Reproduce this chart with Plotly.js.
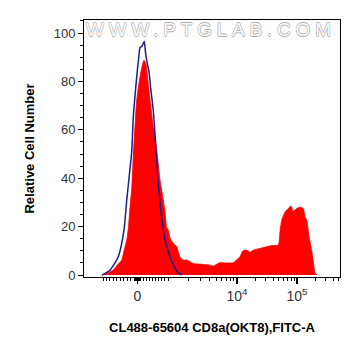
<!DOCTYPE html>
<html>
<head>
<meta charset="utf-8">
<script src="https://cdn.plot.ly/plotly-3.0.1.min.js"></script>
<style>
html,body{margin:0;padding:0;background:#fff;}
#chart{width:361px;height:356px;}
.annotation-text{letter-spacing:4.8px;}
</style>
</head>
<body>
<div id="chart"></div>
<script>
// Display channel (biexponential scale, 0..1024) and relative cell number
const sampleX = [71, 88, 117, 132, 151, 160, 171, 178, 184, 191, 197, 211, 224, 232, 240, 248, 256, 264, 276, 291, 304, 317, 324, 331, 337, 344, 351, 364, 371, 384, 397, 411, 424, 437, 464, 488, 504, 517, 528, 544, 568, 597, 608, 624, 636, 651, 664, 677, 704, 731, 752, 777, 784, 791, 804, 817, 828, 837, 851, 864, 877, 884, 891, 900, 911, 918, 924, 932];
const sampleY = [0, 0.5, 2.1, 4, 6.2, 10, 14.5, 20, 28, 36, 48.5, 72.3, 82, 86, 88.8, 87, 80, 72.3, 62, 51.7, 39.3, 31, 26, 19.5, 18.6, 15.3, 14, 12.4, 11.7, 7.4, 6.2, 6.2, 5.5, 4.8, 4.5, 4.3, 4.1, 3.7, 4.3, 5.1, 5.0, 5.1, 6, 7.6, 10, 10.3, 9.5, 10.3, 11, 11.7, 12.2, 12.4, 18, 22.7, 26, 27.5, 28.5, 26.3, 27.5, 28, 27.5, 24, 22.7, 16, 10, 5, 1, 0];
const controlX = [71, 104, 137, 160, 171, 180, 191, 197, 204, 211, 220, 224, 231, 236, 241, 246, 252, 260, 268, 277, 288, 294, 304, 312, 324, 344, 364, 376, 391];
const controlY = [0, 2, 7.6, 18.6, 31, 40, 51, 65, 74, 82, 91, 94, 94.5, 95.5, 96.5, 92, 88, 84, 76, 68, 52, 42, 30, 23, 14.5, 7.6, 2.9, 1, 0];
const xTickLabels = ["0", "10<sup>4</sup>", "10<sup>5</sup>"];
const yTickLabels = ["0", "20", "40", "60", "80", "100"];
const yTickValues = [0, 20, 40, 60, 80, 100];

// axis geometry (display channels of tick anchors)
const CH_NEG3 = 76, CH_ZERO = 214, CH_E3 = 336, CH_E4 = 612, CH_E5 = 852;
const minorX = [CH_NEG3, CH_E3];
for (let k = 1; k <= 9; k++) {
  minorX.push(CH_ZERO - (CH_ZERO - CH_NEG3) * k / 10);
  minorX.push(CH_ZERO + (CH_E3 - CH_ZERO) * k / 10);
  minorX.push(CH_ZERO - (CH_ZERO - CH_NEG3) * k / 100);
  minorX.push(CH_ZERO + (CH_E3 - CH_ZERO) * k / 100);
}
for (let k = 2; k <= 9; k++) {
  minorX.push(CH_E3 + (CH_E4 - CH_E3) * Math.log10(k));
  minorX.push(CH_E4 + (CH_E5 - CH_E4) * Math.log10(k));
  const v = CH_E5 + (CH_E5 - CH_E4) * Math.log10(k);
  if (v < 1024) minorX.push(v);
}

const font = "Liberation Sans, Arial, sans-serif";
const traces = [
  {x: sampleX, y: sampleY, type: "scatter", mode: "lines", fill: "tozeroy",
   fillcolor: "#ff0000", line: {color: "#ff0000", width: 0.8, shape: "spline", smoothing: 0.6}, hoverinfo: "skip"},
  {x: controlX, y: controlY, type: "scatter", mode: "lines",
   line: {color: "#1c1c8c", width: 1.5, shape: "spline", smoothing: 0.6}, hoverinfo: "skip"}
];
const layout = {
  width: 361, height: 356,
  margin: {l: 84, r: 21, t: 20, b: 79},
  paper_bgcolor: "#ffffff", plot_bgcolor: "#ffffff",
  showlegend: false,
  font: {family: font, color: "#222"},
  xaxis: {
    range: [0, 1024], showgrid: false, zeroline: false,
    showline: true, mirror: true, linecolor: "#000", linewidth: 1,
    tickmode: "array", tickvals: [CH_ZERO, CH_E4, CH_E5], ticktext: xTickLabels,
    ticks: "outside", ticklen: 6, tickwidth: 1.2, tickcolor: "#000",
    tickfont: {size: 14, family: font, color: "#333"},
    minor: {tickmode: "array", tickvals: minorX, ticks: "outside", ticklen: 3, tickwidth: 1, tickcolor: "#000", showgrid: false},
    title: {text: "<b>CL488-65604 CD8a(OKT8),FITC-A</b>", font: {size: 13, family: font, color: "#000"}, standoff: 20}
  },
  yaxis: {
    range: [-0.8, 105.4], showgrid: false, zeroline: false,
    showline: true, mirror: true, linecolor: "#000", linewidth: 1,
    tickmode: "array", tickvals: yTickValues, ticktext: yTickLabels,
    ticks: "outside", ticklen: 5, tickwidth: 1, tickcolor: "#000",
    tickfont: {size: 13, family: font, color: "#333"},
    minor: {dtick: 5, tick0: 0, ticks: "outside", ticklen: 3, tickwidth: 1, tickcolor: "#000", showgrid: false},
    title: {text: "<b>Relative Cell Number</b>", font: {size: 13, family: font, color: "#000"}, standoff: 16}
  },
  annotations: [{
    text: "WWW.PTGLAB.COM", xref: "paper", yref: "paper", x: 0.497, y: 0.962,
    xanchor: "center", yanchor: "middle", showarrow: false,
    font: {size: 19, family: font, color: "#fbfbfb",
      shadow: "0.6px 0 0 #b0b0b0, -0.6px 0 0 #b0b0b0, 0 0.6px 0 #b0b0b0, 0 -0.6px 0 #b0b0b0"}
  }]
};
Plotly.newPlot("chart", traces, layout, {displayModeBar: false, staticPlot: true});
</script>
</body>
</html>
